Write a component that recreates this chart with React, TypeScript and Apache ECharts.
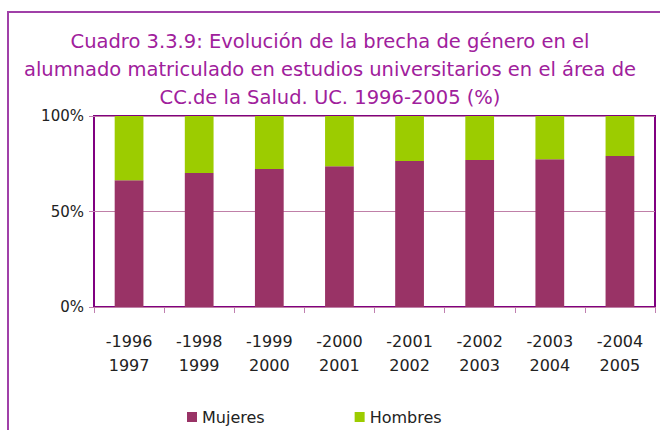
import React, { useEffect, useRef } from "react";
import * as echarts from "echarts";

const categories = ["-1996\n1997", "-1998\n1999", "-1999\n2000", "-2000\n2001", "-2001\n2002", "-2002\n2003", "-2003\n2004", "-2004\n2005"];
const mujeres = [66.4, 70.1, 72.2, 73.7, 76.4, 76.9, 77.4, 79.0];
const hombres = mujeres.map((v) => +(100 - v).toFixed(1));
const yTicks = [0, 50, 100];
const titleText = "Cuadro 3.3.9: Evolución de la brecha de género en el\nalumnado matriculado en estudios universitarios en el área de\nCC.de la Salud. UC. 1996-2005 (%)";

const FONT = "DejaVu Sans";

export default function App() {
  const ref = useRef<HTMLDivElement>(null);
  useEffect(() => {
    if (!ref.current) return;
    const chart = echarts.init(ref.current, null, { renderer: "svg" });
    chart.setOption({
      animation: false,
      backgroundColor: "#ffffff",
      textStyle: { fontFamily: FONT },
      title: {
        text: titleText,
        left: "center",
        top: 22,
        textStyle: { color: "#a0209c", fontSize: 19.5, fontWeight: "normal", lineHeight: 28, fontFamily: FONT },
      },
      graphic: [
        {
          type: "rect",
          shape: { x: 8, y: 12, width: 700, height: 500 },
          style: { fill: "none", stroke: "#a040a8", lineWidth: 2 },
          silent: true,
        },
      ],
      legend: {
        left: 182,
        top: 404,
        itemWidth: 10,
        itemHeight: 10,
        itemGap: 90,
        icon: "rect",
        textStyle: { fontSize: 16, color: "#222", fontFamily: FONT },
        data: ["Mujeres", "Hombres"],
      },
      grid: {
        left: 94,
        right: 5,
        top: 116,
        bottom: 123,
        show: true,
        borderColor: "#800080",
        borderWidth: 2,
        backgroundColor: "transparent",
      },
      xAxis: {
        type: "category",
        data: categories,
        axisLine: { show: false },
        axisTick: { show: true, length: 6, lineStyle: { color: "#c080b0" } },
        axisLabel: { color: "#222", fontSize: 16, lineHeight: 24, margin: 22, interval: 0, fontFamily: FONT },
      },
      yAxis: {
        type: "value",
        min: 0,
        max: 100,
        interval: 50,
        axisLine: { show: false },
        axisTick: { show: true, length: 5, lineStyle: { color: "#c080b0" } },
        splitLine: { show: true, lineStyle: { color: "#c080a8", width: 1 } },
        axisLabel: {
          color: "#222",
          fontSize: 15,
          margin: 10,
          fontFamily: FONT,
          formatter: (v: number) => (yTicks.includes(v) ? v + "%" : ""),
        },
      },
      series: [
        {
          name: "Mujeres",
          type: "bar",
          stack: "total",
          data: mujeres,
          barWidth: "41%",
          itemStyle: { color: "#993366" },
        },
        {
          name: "Hombres",
          type: "bar",
          stack: "total",
          data: hombres,
          barWidth: "41%",
          itemStyle: { color: "#9ccc00" },
        },
      ],
    });
    return () => chart.dispose();
  }, []);
  return <div ref={ref} style={{ width: 660, height: 430, position: "fixed", left: 0, top: 0 }} />;
}
